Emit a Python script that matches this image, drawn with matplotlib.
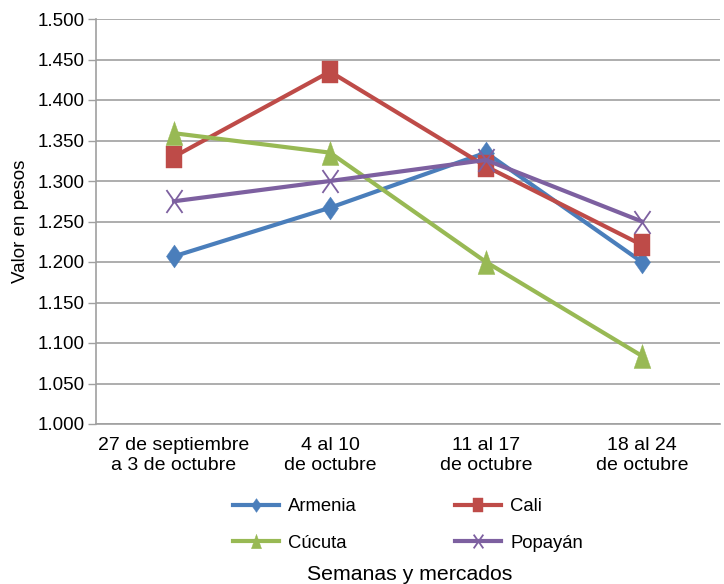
import matplotlib
matplotlib.use("Agg")
import matplotlib.pyplot as plt
from matplotlib.ticker import FuncFormatter
from matplotlib.path import Path

plt.rcParams['font.family'] = ['Liberation Sans', 'DejaVu Sans']

categories = ["27 de septiembre\na 3 de octubre", "4 al 10\nde octubre",
              "11 al 17\nde octubre", "18 al 24\nde octubre"]
armenia = [1.207, 1.267, 1.335, 1.200]
cali = [1.330, 1.435, 1.318, 1.221]
cucuta = [1.359, 1.335, 1.200, 1.084]
popayan = [1.275, 1.300, 1.326, 1.250]

r = 0.35
diamond = Path([(0, 0.5), (r, 0), (0, -0.5), (-r, 0), (0, 0.5)],
               [Path.MOVETO, Path.LINETO, Path.LINETO, Path.LINETO, Path.CLOSEPOLY])
rect = Path([(-r, -0.5), (r, -0.5), (r, 0.5), (-r, 0.5), (-r, -0.5)],
            [Path.MOVETO, Path.LINETO, Path.LINETO, Path.LINETO, Path.CLOSEPOLY])
tri = Path([(0, 0.5), (r, -0.5), (-r, -0.5), (0, 0.5)],
           [Path.MOVETO, Path.LINETO, Path.LINETO, Path.CLOSEPOLY])
cross = Path([(-r, -0.5), (r, 0.5), (-r, 0.5), (r, -0.5)],
             [Path.MOVETO, Path.LINETO, Path.MOVETO, Path.LINETO])

series = [
    ("Armenia", armenia, "#4A7EBB", diamond, 16.5),
    ("Cali", cali, "#BE4B48", rect, 16.5),
    ("Cúcuta", cucuta, "#98B954", tri, 17.3),
    ("Popayán", popayan, "#7D60A0", cross, 16.5),
]

fig = plt.figure(figsize=(7.24, 5.84), dpi=100)
ax = fig.add_axes([96/724, 1-424/584, 624/724, 405/584])

x = [i + 0.5 for i in range(len(categories))]
handles = {}
for name, vals, col, mk, ms in series:
    is_x = mk is cross
    h, = ax.plot(x, vals, color=col, lw=3.0, marker=mk, markersize=ms,
                 markeredgecolor=col, markerfacecolor='none' if is_x else col,
                 markeredgewidth=1.3 if is_x else 0.3, label=name)
    handles[name] = h

ax.set_xlim(0, 4)
ax.set_ylim(1.0, 1.5)
ax.set_yticks([1.0 + 0.05 * i for i in range(11)])
ax.yaxis.set_major_formatter(FuncFormatter(lambda v, p: f"{v:.3f}"))
ax.set_xticks(x)
ax.set_xticklabels(categories, linespacing=1.3)
ax.tick_params(axis='x', length=0, pad=9, labelsize=14)
ax.tick_params(axis='y', length=6, width=1, color="#A0A0A0", labelsize=13.5, pad=2)
ax.grid(axis='y', color="#A0A0A0", lw=1.2)
ax.set_axisbelow(True)
for s in ["top", "right"]:
    ax.spines[s].set_visible(False)
for s in ["left", "bottom"]:
    ax.spines[s].set_color("#A0A0A0")
    ax.spines[s].set_linewidth(1.2)

ax.set_ylabel("Valor en pesos", fontsize=13.5, labelpad=6)

order = ["Armenia", "Cúcuta", "Cali", "Popayán"]
fig.legend(handles=[handles[n] for n in order], loc="center",
           bbox_to_anchor=(408/724, 1-525/584),
           ncol=2, frameon=False, fontsize=13.3, columnspacing=5.3,
           handlelength=2.5, handletextpad=0.5, labelspacing=1.05, markerscale=0.6)
fig.text(410/724, 1-575/584, "Semanas y mercados", ha="center", va="center", fontsize=15.3)

fig.savefig("out.png", dpi=100)
